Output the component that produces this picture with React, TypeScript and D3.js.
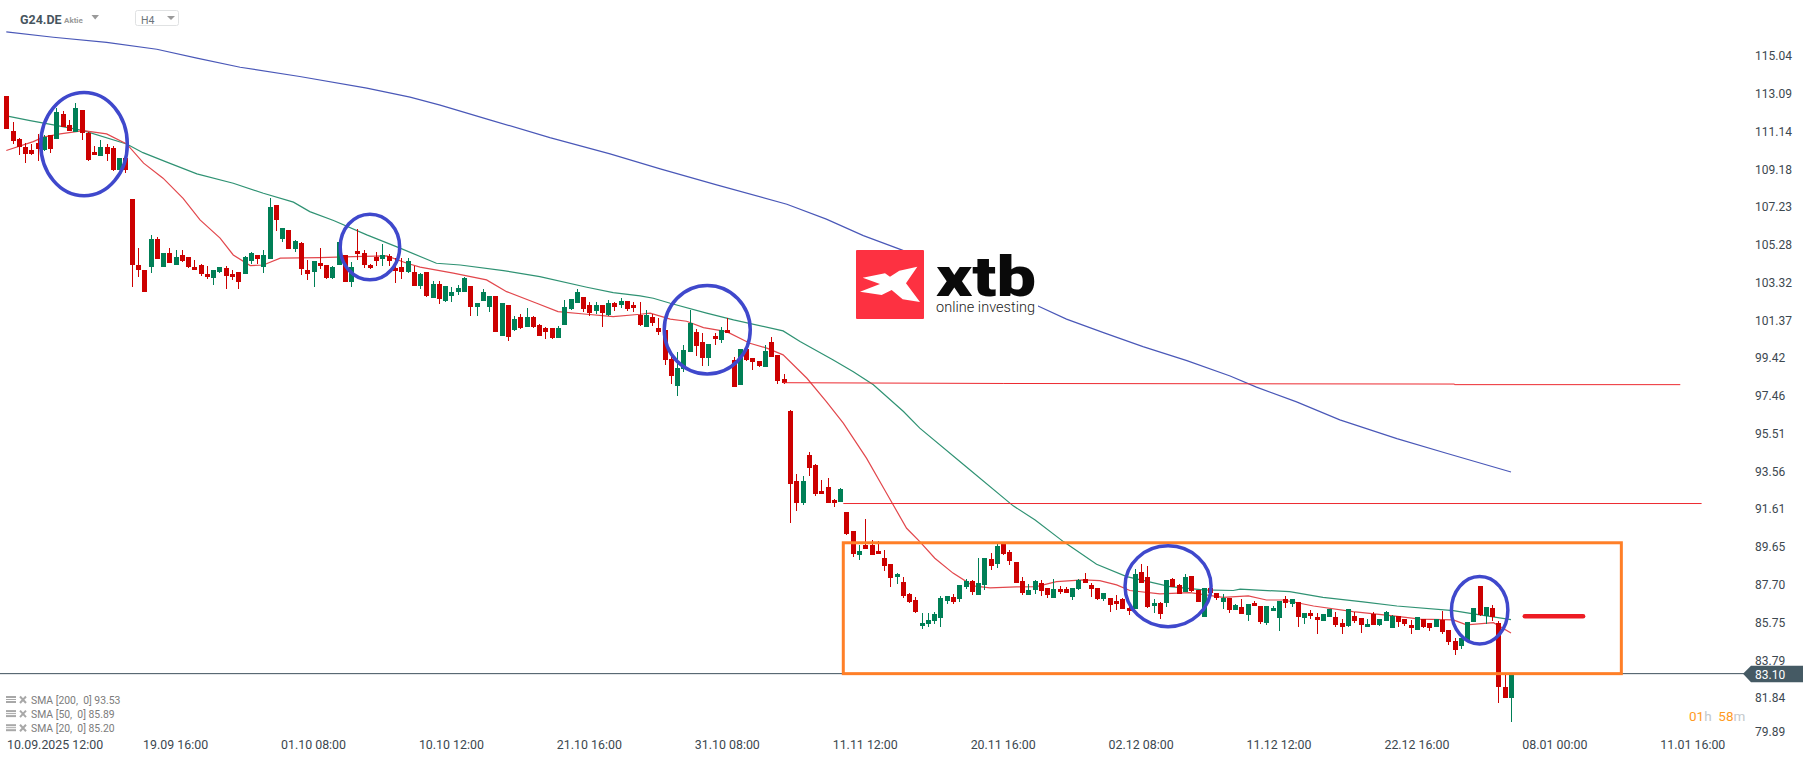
import {useEffect, useRef} from "react";
import * as d3 from "d3";

// open, high, low, close per 4h bar
const candles: number[][] = [
	[112.98,112.98,111.29,111.29],[111.17,111.64,110.50,110.67],[110.76,110.79,109.93,110.35],[110.35,110.54,109.54,110.00],[110.19,110.50,109.93,109.98],
	[110.54,111.02,109.64,110.24],[110.19,110.97,110.16,110.88],[110.97,110.97,110.05,110.26],[110.76,112.35,110.76,112.16],[112.05,112.21,111.38,111.38],
	[111.48,111.74,111.17,111.17],[111.10,112.62,111.10,112.36],[112.26,112.26,110.71,111.09],[111.05,111.14,109.62,109.67],[110.09,110.40,109.93,109.93],
	[109.88,110.71,109.88,110.36],[110.35,110.50,109.62,110.00],[110.29,110.40,109.12,109.16],[109.16,109.78,109.16,109.78],[109.78,109.78,109.02,109.16],
	[107.66,107.66,103.12,104.24],[104.24,105.12,103.64,103.98],[103.98,103.98,102.84,102.84],[104.14,105.79,103.83,105.59],[105.59,105.69,104.55,104.55],
	[104.14,104.86,104.14,104.86],[104.86,105.12,104.35,104.35],[104.24,105.02,104.24,104.66],[104.76,105.02,104.40,104.45],[104.66,104.66,104.09,104.14],
	[104.14,104.50,103.98,103.98],[104.24,104.29,103.67,103.78],[103.78,104.19,103.52,103.60],[103.57,103.98,103.21,103.98],[103.88,104.14,103.83,104.14],
	[104.09,104.19,103.00,103.67],[103.78,103.98,103.47,103.62],[103.88,103.88,103.00,103.36],[103.78,104.71,103.78,104.66],[104.45,104.91,104.29,104.86],
	[104.76,104.76,104.29,104.55],[104.14,105.02,103.83,104.76],[104.55,107.71,104.55,107.24],[107.35,107.35,106.00,106.57],[105.59,106.16,105.43,106.16],
	[106.05,106.05,105.07,105.07],[105.07,105.53,104.91,105.48],[105.38,105.43,103.72,104.03],[103.98,104.50,103.47,103.78],[103.88,104.45,103.10,104.45],
	[104.35,105.12,104.03,104.19],[104.24,104.24,103.52,103.57],[103.57,104.19,103.52,104.14],[104.24,105.43,104.24,105.43],[104.76,104.76,103.36,103.36],
	[103.36,104.40,103.10,104.14],[104.97,106.10,104.50,104.81],[104.86,105.02,104.09,104.24],[104.24,104.29,104.03,104.09],[104.66,104.91,104.19,104.45],
	[104.55,105.33,104.19,104.76],[104.71,104.81,104.19,104.45],[104.09,104.60,103.31,103.93],[104.14,104.60,103.52,103.88],[103.88,104.60,103.83,104.45],
	[103.88,104.19,103.16,103.16],[103.16,103.83,103.00,103.78],[103.88,103.88,102.59,102.64],[102.53,103.41,102.53,103.26],[103.26,103.41,102.22,102.48],
	[102.38,103.16,102.33,103.16],[102.64,103.10,102.33,102.85],[102.85,103.21,102.69,103.05],[102.85,103.62,102.85,103.57],[103.16,103.16,101.61,102.07],
	[102.07,102.28,101.61,102.28],[102.38,103.00,102.38,102.85],[102.07,102.64,101.81,102.64],[102.64,102.64,100.78,100.78],[100.57,102.28,100.57,102.28],
	[102.17,102.17,100.31,100.52],[100.88,101.61,100.83,101.45],[101.55,101.71,100.93,100.98],[101.04,102.02,101.04,101.55],[101.55,101.61,100.98,101.04],
	[101.14,101.19,100.57,100.57],[100.98,101.04,100.42,100.78],[100.98,100.98,100.42,100.47],[100.47,101.09,100.47,100.98],[101.14,102.43,101.14,102.07],
	[101.97,102.48,101.92,102.48],[102.28,103.00,102.28,102.85],[102.59,102.59,101.81,101.97],[102.17,102.33,101.61,101.76],[101.86,102.33,101.71,102.17],
	[102.17,102.17,101.04,101.76],[101.66,102.43,101.61,102.28],[102.28,102.33,101.86,102.07],[102.17,102.54,102.02,102.38],[102.38,102.38,101.86,101.97],
	[102.17,102.33,101.81,102.02],[101.66,102.33,101.09,101.14],[101.04,101.92,101.04,101.66],[101.56,101.71,101.09,101.25],[100.99,101.50,100.63,100.78],
	[100.88,100.88,99.07,99.33],[99.38,99.59,98.09,98.50],[97.99,99.75,97.47,98.92],[98.87,100.11,98.71,99.85],[99.75,101.92,99.75,101.25],
	[100.78,100.94,99.54,100.06],[100.26,100.73,99.02,99.43],[99.43,100.16,99.02,100.16],[100.57,100.73,100.11,100.42],[100.37,101.04,100.21,100.87],
	[100.88,101.50,100.73,100.73],[99.33,99.49,97.93,97.93],[98.04,99.90,98.04,99.90],[99.90,99.90,99.28,99.33],[99.43,99.43,98.81,99.23],
	[99.28,99.28,98.97,99.02],[98.97,100.11,98.97,99.80],[100.26,100.52,99.49,99.49],[99.59,99.59,98.09,98.25],[98.35,98.61,98.09,98.14],
	[96.69,96.75,90.90,92.92],[93.07,93.43,91.52,91.93],[91.93,93.33,91.83,93.07],[94.42,94.57,93.33,93.74],[93.90,93.95,92.30,92.40],
	[92.56,93.12,92.40,92.40],[92.76,93.23,91.93,91.93],[92.09,92.14,91.73,91.93],[91.99,92.71,91.99,92.66],[91.47,91.47,90.28,90.33],
	[90.49,90.49,89.14,89.30],[89.24,89.76,88.99,89.45],[89.76,91.11,89.55,89.55],[89.76,90.02,89.24,89.24],[89.45,89.97,89.30,89.30],
	[89.08,89.50,88.41,88.67],[88.77,88.77,87.58,88.05],[88.10,88.31,87.74,88.26],[87.84,88.10,87.01,87.12],[87.22,87.27,86.76,86.81],
	[86.91,87.07,86.24,86.29],[85.57,86.24,85.41,85.72],[85.67,86.24,85.52,85.88],[85.83,86.29,85.67,86.19],[85.98,87.12,85.52,87.01],
	[86.86,87.12,86.70,87.12],[87.07,87.22,86.70,86.81],[86.96,87.69,86.81,87.69],[87.58,87.99,87.48,87.89],[87.89,87.95,87.17,87.33],
	[87.17,89.08,87.17,87.79],[87.69,89.08,87.43,89.08],[89.03,89.34,88.46,88.67],[88.77,89.81,88.57,89.71],[89.81,89.81,89.24,89.29],
	[89.39,89.50,88.72,88.93],[88.88,88.88,87.79,87.79],[87.89,88.10,87.17,87.27],[87.17,87.74,87.17,87.43],[87.43,87.95,87.22,87.89],
	[87.79,87.95,87.12,87.38],[87.53,87.53,87.01,87.17],[87.01,87.99,87.01,87.48],[87.48,87.64,87.22,87.33],[87.48,87.58,87.27,87.27],
	[87.07,87.53,86.91,87.53],[87.48,88.00,87.43,87.95],[88.00,88.31,87.79,87.79],[87.69,87.79,87.07,87.48],[87.53,87.53,86.91,86.96],
	[86.96,87.27,86.86,87.27],[87.01,87.01,86.29,86.65],[86.86,87.17,86.39,86.70],[86.96,87.01,86.45,86.45],[86.50,86.70,86.14,86.34],
	[86.45,88.52,86.45,88.26],[88.36,88.77,87.79,87.79],[88.10,88.67,86.50,86.55],[86.60,86.96,86.24,86.76],[86.76,86.81,85.93,86.19],
	[86.76,87.95,86.55,87.95],[88.00,88.05,87.58,87.58],[87.69,87.74,87.22,87.22],[87.33,88.26,87.33,88.10],[88.15,88.15,87.33,87.38],
	[87.43,87.43,86.81,86.81],[86.03,87.53,86.03,87.53],[87.53,87.53,87.17,87.27],[87.27,87.27,86.91,87.01],[86.81,87.22,86.45,87.01],
	[87.01,87.01,86.24,86.39],[86.39,86.70,86.39,86.65],[86.55,86.96,86.19,86.19],[86.14,86.70,85.83,86.70],[86.76,86.86,86.60,86.60],
	[86.61,86.61,85.67,85.78],[85.73,86.61,85.62,86.61],[86.35,86.61,86.35,86.50],[85.99,86.86,85.31,86.86],[86.97,87.12,86.50,86.76],
	[86.71,86.97,86.55,86.97],[86.81,86.81,85.52,86.04],[85.99,86.24,85.67,86.24],[86.24,86.40,85.93,86.09],[86.04,86.24,85.16,85.88],
	[85.83,86.19,85.83,86.19],[86.04,86.45,86.04,86.45],[86.04,86.30,85.52,85.62],[85.73,85.93,85.16,85.52],[85.57,86.45,85.52,86.45],
	[86.09,86.30,85.73,85.83],[85.99,85.99,85.21,85.62],[85.52,85.93,85.52,85.67],[86.19,86.30,85.62,85.62],[85.62,85.93,85.57,85.93],
	[85.83,86.35,85.83,86.30],[85.47,86.14,85.47,86.09],[86.09,86.09,85.52,85.78],[85.93,85.93,85.57,85.67],[85.62,85.88,85.16,85.47],
	[85.36,86.04,85.36,86.04],[85.93,85.93,85.47,85.52],[85.73,85.73,85.31,85.47],[85.52,85.93,85.52,85.93],[85.88,86.35,85.16,85.26],
	[85.36,85.36,84.59,84.74],[84.80,84.95,84.07,84.33],[84.54,84.95,84.38,84.95],[84.80,85.78,84.80,85.78],[85.78,86.50,85.78,86.50],
	[87.64,87.64,86.09,86.14],[86.09,86.55,85.67,86.55],[86.50,86.66,85.83,86.04],[85.73,85.83,81.59,82.42],[82.42,83.04,81.85,81.85],
	[81.85,83.04,80.61,83.10],
];

// [bar, price]
const sma200 = [[0,116.30],[7.5,116.02],[16,115.76],[24,115.40],[30.4,114.94],[37.3,114.47],[46.8,113.99],[57.5,113.39],[64.4,112.92],[69.2,112.51],[77.1,111.75],[86.7,110.83],[96.3,109.99],[104.3,109.21],[113.3,108.38],[124.5,107.38],[130.8,106.61],[136.7,105.76],[142.8,105.02],[164.3,102.16],[169.1,101.44],[175,100.74],[181.3,100.02],[188.3,99.29],[195.2,98.50],[199.4,97.92],[205.8,97.16],[212.7,96.23],[221.8,95.26],[229.7,94.50],[240,93.53]];
const sma50 = [[0,111.95],[3.8,111.71],[7.5,111.49],[12.3,111.19],[19.2,110.50],[21.8,110.05],[25.6,109.56],[30.4,108.95],[36.2,108.47],[41,107.95],[45.8,107.49],[48.4,107.00],[52.2,106.54],[57.5,105.80],[62.8,105.11],[68.6,104.33],[72.4,104.24],[79.3,103.95],[85.1,103.64],[92.6,103.09],[96.8,102.81],[101.1,102.64],[103.2,102.52],[105.9,102.26],[111.7,101.75],[116,101.40],[123.9,100.83],[126.6,100.28],[131.9,99.33],[135.1,98.72],[138.3,98.04],[143.1,96.66],[145.7,95.80],[153.1,93.80],[160.6,91.78],[164.1,91.05],[168.6,89.93],[173.9,88.76],[178.7,88.12],[185.6,87.60],[190.9,87.43],[195.7,87.40],[196.8,87.47],[204.7,87.34],[210,87.05],[216.4,86.81],[221.8,86.60],[230.8,86.36],[234,86.19],[240,85.89]];
const sma20 = [[0,110.16],[4.3,110.62],[5.9,110.85],[8.6,111.02],[12.3,111.19],[16,111.02],[19.2,110.50],[21.9,109.51],[25,108.73],[28.2,107.69],[30.9,106.57],[34.1,105.63],[36.2,104.76],[38.9,104.21],[41,104.24],[43.7,104.59],[50,104.62],[55.3,104.67],[60.7,104.71],[63.9,104.33],[66,104.13],[71.3,103.82],[76.6,103.47],[79.8,102.86],[84.6,102.26],[88,101.83],[92.6,101.69],[96.8,101.57],[101.1,101.69],[102.7,101.75],[105.9,101.44],[108.5,101.33],[111.2,101.00],[114.9,100.79],[118.6,100.19],[121.3,99.94],[123.9,99.59],[127.7,98.38],[130.8,97.17],[133.5,96.06],[137.2,94.25],[140.4,92.43],[143.6,90.62],[145.7,89.93],[148.1,89.07],[151,88.30],[154.2,87.64],[156.9,87.54],[161.1,87.59],[164.3,87.60],[167.5,87.86],[171.8,87.95],[174.4,87.91],[177.1,87.69],[179.2,87.40],[184,87.23],[188.8,87.29],[194.1,87.05],[198.1,87.12],[201,86.91],[203.7,86.91],[208.5,86.60],[214.8,86.31],[221.2,86.09],[225.5,85.92],[230.8,85.88],[232.9,85.62],[237.2,85.74],[240,85.20]];

const priceTicks = [115.04,113.09,111.14,109.18,107.23,105.28,103.32,101.37,99.42,97.46,95.51,93.56,91.61,89.65,87.70,85.75,83.79,81.84,79.89];
const timeTickBars = [27,49,71,93,115,137,159,181,203,225,247,269];
const timeTickLabels = ["19.09  16:00","01.10  08:00","10.10  12:00","21.10  16:00","31.10  08:00","11.11  12:00","20.11  16:00","02.12  08:00","11.12  12:00","22.12  16:00","08.01  00:00","11.01  16:00"];
const legendRows = ["SMA [200,  0] 93.53","SMA [50,  0] 85.89","SMA [20,  0] 85.20"];
const lastPrice = 83.10;

// hand drawn levels and marks on the chart, [bar, price]
const upperLevel = [[123.9,98.15],[159,98.11],[231,98.08],[231,98.05],[267,98.05]];
const lowerLevel = [[133.5,91.90],[270.4,91.90]];
const tradeDash = [[242.2,86.07],[251.5,86.07]];
const zoneBox = [133.5,257.6,89.87,83.10]; // bar from, bar to, top, bottom
const circles = [ // centre bar, centre price, rx in bars, ry in price
	[12.4,110.49,6.9,2.67],
	[58,105.17,4.74,1.70],
	[111.8,100.89,6.86,2.29],
	[185.3,87.62,6.86,2.09],
	[235,86.38,4.5,1.74],
];

const FONT = "Roboto, sans-serif";

const App = () => {
	const svgRef = useRef<SVGSVGElement>(null);

	useEffect(() => {
		const svg = d3.select(svgRef.current);
		svg.selectAll("*").remove();

		const x = d3.scaleLinear().domain([0, 240]).range([6.3, 1511]);
		const y = d3.scaleLinear().domain([79.89, 115.04]).range([735.7, 56.2]);
		const line = d3.line<number[]>().x((d) => x(d[0])).y((d) => y(d[1]));

		// last price line
		svg.append("line")
			.attr("x1", 0)
			.attr("x2", 1750)
			.attr("y1", y(lastPrice))
			.attr("y2", y(lastPrice))
			.attr("stroke", "#3e515c")
			.attr("stroke-width", 1);

		// moving averages
		[
			{d: sma200, c: "#4a58b8"},
			{d: sma50, c: "#2f9273"},
			{d: sma20, c: "#e2474c"},
		].forEach((s) => {
			svg.append("path")
				.attr("d", line(s.d))
				.attr("fill", "none")
				.attr("stroke", s.c)
				.attr("stroke-width", 1.2);
		});

		// candles
		const bars = svg.append("g").attr("shape-rendering", "crispEdges");
		bars.selectAll("line")
			.data(candles)
			.join("line")
			.attr("x1", (d, i) => Math.round(x(i)) + 0.5)
			.attr("x2", (d, i) => Math.round(x(i)) + 0.5)
			.attr("y1", (d) => y(d[1]))
			.attr("y2", (d) => y(d[2]))
			.attr("stroke", (d) => (d[3] >= d[0] ? "#007f56" : "#cc0000"));
		bars.selectAll("rect")
			.data(candles)
			.join("rect")
			.attr("x", (d, i) => Math.round(x(i)) - 2)
			.attr("width", 5)
			.attr("y", (d) => y(Math.max(d[0], d[3])))
			.attr("height", (d) => Math.max(1, Math.abs(y(d[0]) - y(d[3]))))
			.attr("fill", (d) => (d[3] >= d[0] ? "#007f56" : "#cc0000"));

		// levels
		[upperLevel, lowerLevel].forEach((l) => {
			svg.append("path")
				.attr("d", line(l))
				.attr("fill", "none")
				.attr("stroke", "#ed2a30")
				.attr("stroke-width", 1);
		});
		svg.append("path")
			.attr("d", line(tradeDash))
			.attr("stroke", "#ed1c24")
			.attr("stroke-width", 4.5)
			.attr("stroke-linecap", "round");

		// orange zone
		svg.append("rect")
			.attr("x", x(zoneBox[0]))
			.attr("y", y(zoneBox[2]))
			.attr("width", x(zoneBox[1]) - x(zoneBox[0]))
			.attr("height", y(zoneBox[3]) - y(zoneBox[2]))
			.attr("fill", "none")
			.attr("stroke", "#ff7f27")
			.attr("stroke-width", 3);

		// blue circles
		svg.selectAll("ellipse")
			.data(circles)
			.join("ellipse")
			.attr("cx", (d) => x(d[0]))
			.attr("cy", (d) => y(d[1]))
			.attr("rx", (d) => x(d[2]) - x(0))
			.attr("ry", (d) => y(0) - y(d[3]))
			.attr("fill", "none")
			.attr("stroke", "#3f48cc")
			.attr("stroke-width", 3.5);

		// logo
		const logo = svg.append("g");
		logo.append("rect").attr("x", 924).attr("y", 248).attr("width", 114).attr("height", 72).attr("fill", "#fff");
		logo.append("rect").attr("x", 856).attr("y", 250).attr("width", 68).attr("height", 69).attr("rx", 1).attr("fill", "#fd3141");
		logo.append("polygon")
			.attr("transform", "translate(830,230) scale(0.3333)")
			.attr("points", "98,143 165,130 180,140 208,122 262,110 228,160 270,216 218,208 185,180 155,195 90,185 150,162")
			.attr("fill", "#fff");
		logo.append("text")
			.attr("x", 936)
			.attr("y", 296)
			.attr("font-family", FONT)
			.attr("font-weight", 900)
			.attr("font-size", 56)
			.attr("textLength", 100)
			.attr("lengthAdjust", "spacingAndGlyphs")
			.attr("fill", "#0a0a0a")
			.text("xtb");
		logo.append("text")
			.attr("x", 936)
			.attr("y", 312)
			.attr("font-family", FONT)
			.attr("font-weight", 300)
			.attr("font-size", 14.5)
			.attr("textLength", 99)
			.attr("lengthAdjust", "spacing")
			.attr("fill", "#1a1a1a")
			.text("online investing");

		// price axis
		svg.append("g")
			.selectAll("text")
			.data(priceTicks)
			.join("text")
			.attr("x", 1755)
			.attr("y", (d) => Math.min(y(d), 731.7))
			.attr("dy", "0.35em")
			.attr("font-family", FONT)
			.attr("font-size", 12)
			.attr("fill", "#3c4850")
			.text((d) => d.toFixed(2));

		// last price tag
		const ty = y(lastPrice);
		svg.append("path")
			.attr("d", `M1743,${ty} L1751,${ty - 8} H1803 V${ty + 8.5} H1751 Z`)
			.attr("fill", "#455a64");
		svg.append("text")
			.attr("x", 1755)
			.attr("y", ty + 1)
			.attr("dy", "0.35em")
			.attr("font-family", FONT)
			.attr("font-size", 12)
			.attr("fill", "#fff")
			.text(lastPrice.toFixed(2));

		// time axis
		const axisX = svg.append("g")
			.attr("font-family", FONT)
			.attr("font-size", 12.4)
			.attr("fill", "#3c4850")
			.style("white-space", "pre");
		axisX.append("text").attr("x", 7).attr("y", 749).text("10.09.2025  12:00");
		axisX.selectAll("text.t")
			.data(timeTickLabels)
			.join("text")
			.attr("class", "t")
			.attr("x", (d, i) => x(timeTickBars[i]))
			.attr("y", 749)
			.attr("text-anchor", "middle")
			.text((d) => d);

		// legend
		const legend = svg.append("g")
			.selectAll("g")
			.data(legendRows)
			.join("g")
			.attr("transform", (d, i) => `translate(0,${700 + i * 14.1})`);
		legend.append("rect").attr("x", 6).attr("y", -4).attr("width", 10).attr("height", 2).attr("fill", "#a8a8a8");
		legend.append("rect").attr("x", 6).attr("y", -1).attr("width", 10).attr("height", 1).attr("fill", "#a8a8a8");
		legend.append("rect").attr("x", 6).attr("y", 1).attr("width", 10).attr("height", 2).attr("fill", "#a8a8a8");
		legend.append("path")
			.attr("d", "M20,-3.5 L26,3 M26,-3.5 L20,3")
			.attr("stroke", "#a8a8a8")
			.attr("stroke-width", 2);
		legend.append("text")
			.attr("x", 31)
			.attr("dy", "0.35em")
			.attr("font-family", FONT)
			.attr("font-size", 10.4)
			.attr("fill", "#7c7c7c")
			.style("white-space", "pre")
			.text((d) => d);

		// header
		svg.append("text")
			.attr("x", 20)
			.attr("y", 24)
			.attr("font-family", FONT)
			.attr("font-weight", 700)
			.attr("font-size", 12.5)
			.attr("fill", "#47555e")
			.text("G24.DE");
		svg.append("text")
			.attr("x", 64)
			.attr("y", 23)
			.attr("font-family", FONT)
			.attr("font-weight", 700)
			.attr("font-size", 8)
			.attr("fill", "#9a9a9a")
			.text("Aktie");
		svg.append("path").attr("d", "M91.5,15 H99 L95.2,19.5 Z").attr("fill", "#9a9a9a");
		svg.append("rect")
			.attr("x", 135.5)
			.attr("y", 10.5)
			.attr("width", 43)
			.attr("height", 15)
			.attr("rx", 2)
			.attr("fill", "#fff")
			.attr("stroke", "#e0e2e3");
		svg.append("text")
			.attr("x", 141)
			.attr("y", 23.5)
			.attr("font-family", FONT)
			.attr("font-size", 10.5)
			.attr("fill", "#6c757b")
			.text("H4");
		svg.append("path").attr("d", "M167,16 H175 L171,20 Z").attr("fill", "#9a9a9a");

		// countdown
		const countdown = svg.append("text")
			.attr("x", 1689)
			.attr("y", 721)
			.attr("font-family", FONT)
			.attr("font-size", 13.5)
			.style("white-space", "pre");
		[["01", "#ff9a1e"], ["h ", "#c4c8cb"], [" 58", "#ff9a1e"], ["m", "#c4c8cb"]].forEach(([t, c]) => {
			countdown.append("tspan").attr("fill", c).text(t);
		});
	}, []);

	return (
		<div style={{position: "absolute", left: 0, top: 0}}>
			<svg ref={svgRef} width={1815} height={761} style={{display: "block", background: "#fff"}}></svg>
		</div>
	);
};

export default App;
